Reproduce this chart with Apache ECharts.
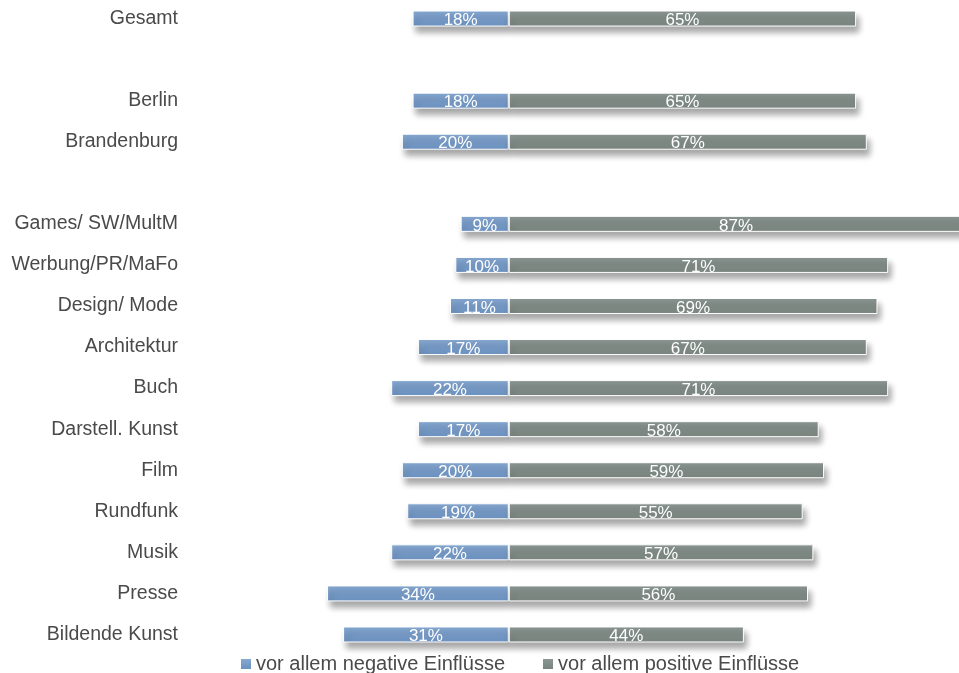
<!DOCTYPE html>
<html>
<head>
<meta charset="utf-8">
<script src="https://cdn.jsdelivr.net/npm/echarts@6/dist/echarts.min.js"></script>
<style>
  html, body { margin: 0; padding: 0; background: #fff; }
  #chart { width: 959px; height: 673px; }
</style>
</head>
<body>
<div id="chart"></div>
<script>
// Kategorien von oben nach unten (leere Zeilen als Abstand)
const categories = [
  'Gesamt', ' ', 'Berlin', 'Brandenburg', '  ',
  'Games/ SW/MultM', 'Werbung/PR/MaFo', 'Design/ Mode', 'Architektur', 'Buch',
  'Darstell. Kunst', 'Film', 'Rundfunk', 'Musik', 'Presse', 'Bildende Kunst'
];
// Anteile in %
const negativeValues = [18, null, 18, 20, null, 9, 10, 11, 17, 22, 17, 20, 19, 22, 34, 31];
const positiveValues = [65, null, 65, 67, null, 87, 71, 69, 67, 71, 58, 59, 55, 57, 56, 44];
const seriesNames = ['vor allem negative Einflüsse', 'vor allem positive Einflüsse'];

const chart = echarts.init(document.getElementById('chart'));

const grad = (top, bottom) => new echarts.graphic.LinearGradient(0, 0, 0, 1, [
  { offset: 0, color: top },
  { offset: 1, color: bottom }
]);

const barStyle = (color) => ({
  color: color,
  borderColor: '#ffffff',
  borderWidth: 1,
  shadowColor: 'rgba(0, 0, 0, 0.35)',
  shadowBlur: 6,
  shadowOffsetX: 3,
  shadowOffsetY: 6
});

const barLabel = {
  show: true,
  position: 'inside',
  color: '#ffffff',
  fontFamily: 'Liberation Sans, Arial, sans-serif',
  fontSize: 17,
  offset: [0, 2],
  formatter: (p) => Math.abs(p.value) + '%'
};

chart.setOption({
  animation: false,
  legend: {
    left: 236,
    top: 649,
    itemWidth: 10,
    itemHeight: 10,
    itemGap: 38,
    icon: 'rect',
    itemStyle: { borderWidth: 0, shadowBlur: 0, shadowOffsetX: 0, shadowOffsetY: 0 },
    textStyle: {
      color: '#4a4a4a',
      fontSize: 20,
      fontFamily: 'Liberation Sans, Arial, sans-serif'
    },
    data: seriesNames
  },
  grid: {
    left: 295,
    top: -2,
    width: 668,
    height: 657,
    outerBoundsMode: 'none'
  },
  xAxis: {
    type: 'value',
    min: -40,
    max: 85,
    show: false
  },
  yAxis: {
    type: 'category',
    inverse: true,
    data: categories,
    axisLine: { show: false },
    axisTick: { show: false },
    axisLabel: {
      margin: 117,
      color: '#4a4a4a',
      fontSize: 19.5,
      fontFamily: 'Liberation Sans, Arial, sans-serif'
    }
  },
  series: [
    {
      name: seriesNames[0],
      type: 'bar',
      stack: 'total',
      barWidth: 16,
      data: negativeValues.map(v => v == null ? '-' : -v),
      itemStyle: barStyle(grad('#86a8d1', '#6b91c0')),
      label: barLabel
    },
    {
      name: seriesNames[1],
      type: 'bar',
      stack: 'total',
      barWidth: 16,
      data: positiveValues.map(v => v == null ? '-' : v),
      itemStyle: barStyle(grad('#8b9692', '#79847f')),
      label: barLabel
    }
  ]
});
</script>
</body>
</html>
